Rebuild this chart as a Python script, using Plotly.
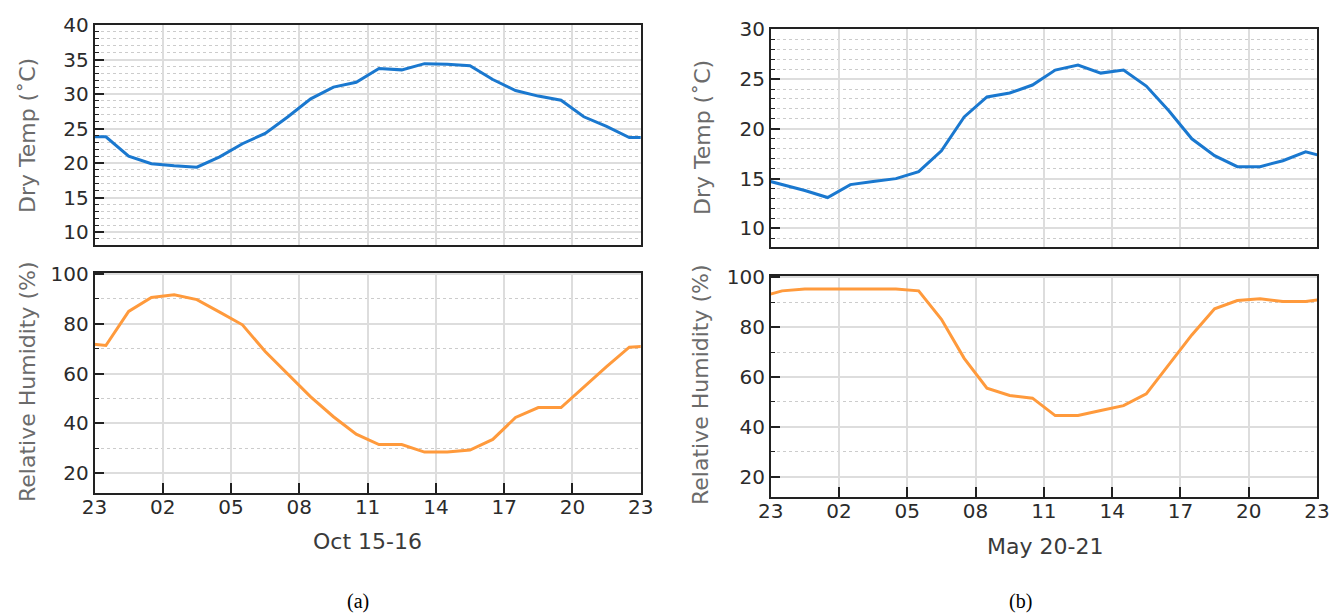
import pandas as pd
import plotly.graph_objects as go

# hourly readings (taken at half past each hour), 22:30 day before .. 23:30 next day
times_a = pd.date_range("2015-10-15 22:30", periods=26, freq="h")
times_b = pd.date_range("2015-05-20 22:30", periods=26, freq="h")

temp_a = [23.8, 23.8, 21.0, 19.9, 19.6, 19.4, 20.9, 22.8, 24.3, 26.7, 29.3, 31.0, 31.7,
          33.7, 33.5, 34.4, 34.3, 34.1, 32.1, 30.5, 29.7, 29.1, 26.7, 25.3, 23.7, 23.7]
rh_a = [72.3, 71.3, 85.0, 90.6, 91.7, 89.7, 84.7, 79.6, 68.9, 59.9, 50.7, 42.7, 35.7,
        31.5, 31.5, 28.5, 28.5, 29.3, 33.6, 42.4, 46.4, 46.4, 54.6, 62.8, 70.6, 71.2]
temp_b = [15.0, 14.4, 13.8, 13.1, 14.4, 14.7, 15.0, 15.7, 17.8, 21.2, 23.2, 23.6, 24.4,
          25.9, 26.4, 25.6, 25.9, 24.3, 21.8, 19.0, 17.3, 16.2, 16.2, 16.8, 17.7, 17.1]
rh_b = [92.0, 94.6, 95.4, 95.4, 95.4, 95.4, 95.4, 94.6, 83.2, 67.5, 55.5, 52.6, 51.5,
        44.5, 44.5, 46.5, 48.5, 53.2, 64.9, 76.9, 87.4, 90.7, 91.4, 90.3, 90.3, 91.5]

range_a = ["2015-10-15 23:00", "2015-10-16 23:00"]
range_b = ["2015-05-20 23:00", "2015-05-21 23:00"]
xlabel_a = "Oct 15-16"
xlabel_b = "May 20-21"
temp_title = "Dry Temp (˚C)"
rh_title = "Relative Humidity (%)"

BLUE = "#1a78cf"
ORANGE = "#ff9a3c"
FONT = "DejaVu Sans"
TICKFONT = dict(family=FONT, size=20, color="#2b2b2b")

fig = go.Figure()
fig.add_trace(go.Scatter(x=times_a, y=temp_a, mode="lines", line=dict(color=BLUE, width=3),
                         xaxis="x", yaxis="y", showlegend=False))
fig.add_trace(go.Scatter(x=times_a, y=rh_a, mode="lines", line=dict(color=ORANGE, width=3),
                         xaxis="x2", yaxis="y2", showlegend=False))
fig.add_trace(go.Scatter(x=times_b, y=temp_b, mode="lines", line=dict(color=BLUE, width=3),
                         xaxis="x3", yaxis="y3", showlegend=False))
fig.add_trace(go.Scatter(x=times_b, y=rh_b, mode="lines", line=dict(color=ORANGE, width=3),
                         xaxis="x4", yaxis="y4", showlegend=False))

H = 616
W = 1330


def xaxis(dom, rng, anchor, labels):
    return dict(
        type="date", domain=dom, range=rng, anchor=anchor, automargin=False,
        tick0=rng[0], dtick=3 * 3600 * 1000, tickformat="%H",
        showticklabels=labels, ticks="inside" if labels else "",
        ticklen=10, tickwidth=1.5, tickcolor="#222",
        tickfont=TICKFONT, ticklabelstandoff=-4, ticklabeloverflow="allow",
        showgrid=True, gridcolor="#dddddd", gridwidth=1.5,
        showline=True, mirror=True, linecolor="#222", linewidth=1.5,
        zeroline=False,
    )


def yaxis(dom, rng, anchor, major, minor):
    return dict(
        domain=dom, range=rng, anchor=anchor, dtick=major, tick0=0, automargin=False,
        ticks="inside", ticklen=10, tickwidth=1.5, tickcolor="#222",
        tickfont=TICKFONT, ticklabelstandoff=0,
        showgrid=True, gridcolor="#dddddd", gridwidth=1.5,
        showline=True, mirror=True, linecolor="#222", linewidth=1.5,
        zeroline=False,
        minor=dict(dtick=minor, tick0=0, ticks="inside", ticklen=5, tickwidth=1.2,
                   tickcolor="#222", showgrid=True, gridcolor="#cccccc",
                   griddash="dot", gridwidth=1),
    )


xa = [94.5 / W, 640.7 / W]
xb = [770.7 / W, 1317 / W]

fig.update_layout(
    width=W, height=H, margin=dict(l=0, r=0, t=0, b=0, autoexpand=False),
    paper_bgcolor="white", plot_bgcolor="white",
    xaxis=xaxis(xa, range_a, "y", False),
    yaxis=yaxis([1 - 244.5 / H, 1 - 25 / H], [8.2, 40], "x", 5, 1),
    xaxis2=xaxis(xa, range_a, "y2", True),
    yaxis2=yaxis([1 - 492.7 / H, 1 - 272.5 / H], [12.2, 100.6], "x2", 20, 10),
    xaxis3=xaxis(xb, range_b, "y3", False),
    yaxis3=yaxis([1 - 247.3 / H, 1 - 29.3 / H], [8.1, 30], "x3", 5, 1),
    xaxis4=xaxis(xb, range_b, "y4", True),
    yaxis4=yaxis([1 - 496.7 / H, 1 - 275.7 / H], [11.9, 100.7], "x4", 20, 10),
)

TITLEFONT = dict(family=FONT, size=22, color="#6b6b6b")
XTFONT = dict(family=FONT, size=22, color="#3a3a3a")
CAPFONT = dict(family="Liberation Serif", size=20, color="black")


def ann(text, x, y, font, angle=0):
    fig.add_annotation(text=text, x=x / W, y=1 - y / H, xref="paper", yref="paper",
                       showarrow=False, textangle=angle, font=font,
                       xanchor="center", yanchor="middle")


ann(temp_title, 28, 136, TITLEFONT, -90)
ann(rh_title, 27, 382, TITLEFONT, -90)
ann(temp_title, 702, 138, TITLEFONT, -90)
ann(rh_title, 700, 385, TITLEFONT, -90)
ann(xlabel_a, 367, 541, XTFONT)
ann(xlabel_b, 1045, 546, XTFONT)
ann("(a)", 358, 601, CAPFONT)
ann("(b)", 1020, 601, CAPFONT)

fig.write_html("out.html", config={"displayModeBar": False},
               post_script="document.body.style.margin='0px';")
